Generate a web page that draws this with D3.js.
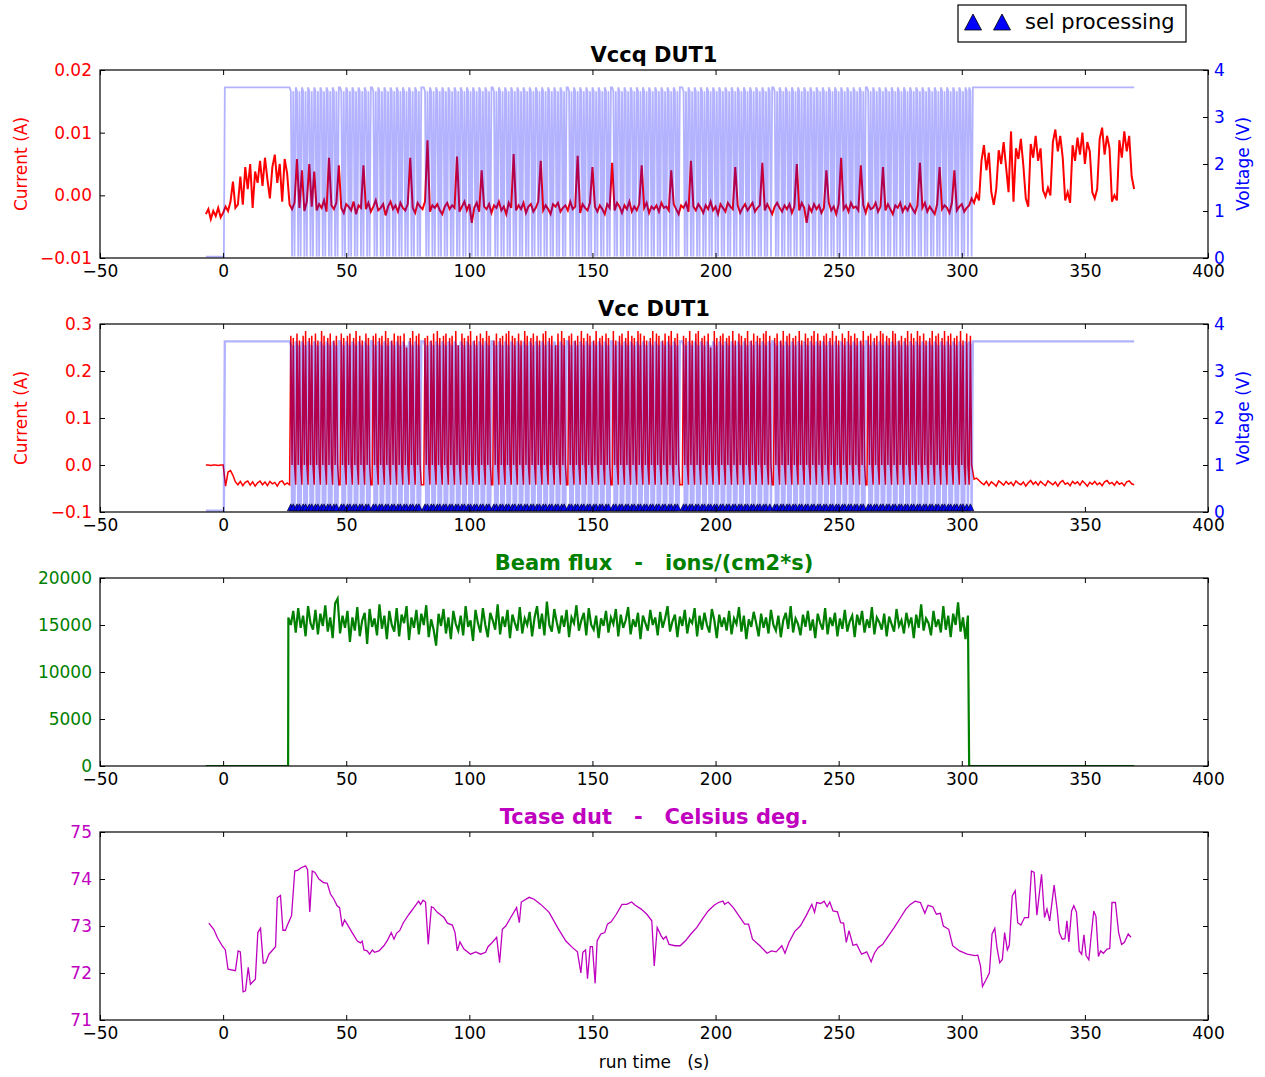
<!DOCTYPE html>
<html>
<head>
<meta charset="utf-8">
<script src="https://cdn.jsdelivr.net/npm/d3@7"></script>
<style>
  body { margin: 0; background: #fff; }
  svg { display: block; }
  text { font-family: "DejaVu Sans", sans-serif; }
</style>
</head>
<body>
<script>
// ---------- data ----------
const xTicks = [-50, 0, 50, 100, 150, 200, 250, 300, 350, 400];

// Vccq current, 1 s samples from t = -7 to 370, unit 1e-4 A
const vccqCurT0 = -7;
const vccqCur = [
  -30,-22,-38,-25,-33,-20,-35,-28,
  -18,-25,-10,22,-20,-15,
  30,-15,45,10,50,-20,38,20,
  55,15,60,25,-5,45,
  65,20,50,-10,58,35,
  -15,-22,-12,58,-20,40,-25,-10,50,-18,
  38,-24,-14,-20,-8,-26,60,-16,-22,-12,
  48,-20,-28,-14,-18,-24,-10,-30,-16,-20,
  48,-22,-12,-26,-18,-8,-24,-20,-14,-32,
  -18,-10,-22,-16,-26,-12,-20,-24,-14,60,
  -20,-28,-12,-18,-22,-10,88,-26,-16,-20,
  -14,-24,-30,-18,-12,-22,-16,-20,62,-26,
  -18,-10,-24,-14,-44,-20,-12,-26,40,-18,
  -22,-14,-28,-16,-20,-10,-24,-18,-30,-12,
  -20,66,-24,-16,-22,-12,-28,-18,-14,-26,
  -20,-10,55,-24,-16,-22,-30,-14,-18,-12,
  -26,-20,-16,-24,-10,-22,-18,63,-28,-14,
  -20,-24,-12,45,-18,-26,-16,-22,-30,-14,
  -20,52,-24,-12,-18,-28,-16,-22,-10,-26,
  -18,-24,-14,48,-20,-12,-28,-18,-22,-16,
  -26,-12,-20,-18,-24,40,-14,-22,-30,-16,
  -20,-12,-26,55,-18,-24,-14,-20,-28,-16,
  -22,-10,-24,-18,-30,-14,-20,-26,-12,-18,
  -22,45,-16,-28,-20,-14,-24,-18,-12,-26,
  -20,-16,52,-24,-14,-22,-30,-18,-12,-20,
  -26,-16,-22,-14,-28,-18,50,-24,-12,-20,
  -44,-18,-26,-14,-22,-16,-28,-20,40,-12,
  -24,-18,-30,-14,60,-22,-16,-26,-12,-20,
  -18,-24,48,-16,-28,-14,-22,-20,-12,-26,
  -18,45,-24,-14,-22,-30,-16,-20,-12,-26,
  -18,-24,-14,-22,-28,-16,52,-20,-12,-26,
  -18,-24,-30,-14,45,-22,-16,-20,-28,-12,
  40,-24,-18,-14,-26,-20,-16,
  -5,-12,2,-8, 55,80,40,68, 5,-15,10, 72,50,85,45, 5,102,-10,
  75,58,90,48, -5,-18, 82,60,95,55,75, 8,-2,12,0, 85,105,70,95,60,
  -8,5,-12, 80,55,92,65,100,50,85,70, 5,-5,10, 90,108,65,95,75,
  -10,0,-8, 88,60,102,70,95, 30,10
];

// SEL cycling, one character every 0.5 s from t = 27:
// n = normal, o = power cut, digit = SEL current level
const selT0 = 27, selDt = 0.5;
const selStates = [
  "n7o6on8o5on7o9on6o7on8o5o",
  "n9o7on6o8on5o7onn8o6on7o",
  "8on6o9on7o5on8o6onn7o8on6o",
  "7on9o6on5o8on7o7on8o2on6o",
  "9on7o8onnn6o7on5o8on9o6on7o",
  "8on6o7on9o3on8o6on7o9on5o",
  "7on8o6on9o7onn5o8on6o7on8o",
  "9on7o6on8o5on9o7on6o8on7o",
  "5on8o9on6o7on3o8on9o6onn7o",
  "8on5o7on9o6on8o7on5o9on6o",
  "7on8o6onn9o5on7o8on6o9on7o",
  "6on9o8on7o5on6o9on8o7on5o",
  "8on7o9on6o8onnn7o6on9o5on8o",
  "9on6o7on8o2on9o6on7o8on6o",
  "7on9o5on8o7on6o9on5o8on7o",
  "6on8o9on7onn6o8on5o9on7o",
  "8on6o7on9o5on8o6on7o9on8o",
  "5on7o8on6o9on7o5on8o6on9o",
  "7on8o6on5o9onn7o8on6o7on9o",
  "8on7o6on9o8on5o7on6o9on8o",
  "6on9o7on8o5on6o9on7o8on6o",
  "9on7o8on6o7on9o5on8o",
  "n7o"
].join("");

// supply voltage (V) outside the SEL phase
const voltBefore = [[-7, 0.03], [0.3, 0.03], [0.7, 3.63]];
const voltAfter = [[304.5, 3.63], [370, 3.63]];
const voltLevel = { n: 3.63, s: 3.55, o: 0.03 };

// Vcc current (unit 1e-3 A), 1 s samples
const vccCurPreT0 = -7;
const vccCurPre = [
  0,0,-1,0,0,-1,0,0,
  -45,-15,-12,-22,-36,-42,-35,-44,-37,-34,-43,-36,-45,-38,-34,
  -42,-36,-44,-35,-40,-37,-45,-36,-34,-42,-38
];
const vccCurPostT0 = 305;
const vccCurPost = [
  -30,-28,-33,-38,-42,-35,-44,-36,-40,-45,
  -34,-38,-43,-35,-41,-37,-44,-34,-39,-42,
  -36,-45,-38,-33,-41,-36,-43,-35,-40,-44,
  -34,-38,-42,-36,-45,-37,-33,-41,-38,-44,
  -35,-40,-36,-43,-34,-39,-45,-37,-41,-35,
  -42,-38,-44,-36,-33,-40,-37,-43,-35,-41,
  -38,-44,-36,-34,-40,-42
];
const vccNormal = -0.042, vccOff = 0.0, vccSelBase = 0.24, vccSelStep = 0.005;
const selMarkVolt = 0.1;

// beam flux, unit 100 ions/(cm2*s), 1 s samples from t = 26.5
const fluxT0 = 26.5;
const fluxBefore = [[-7, 0], [26.4, 0]];
const fluxAfter = [[303, 0], [370, 0]];
const flux = [
  158,150,165,142,168,147,160,138,170,152,
  145,166,140,162,149,171,143,158,136,173,
  178,141,160,147,165,132,158,144,169,138,
  155,163,130,167,148,157,139,172,146,160,
  135,165,150,143,168,138,161,152,170,134,
  158,147,166,140,162,150,171,137,156,145,
  128,162,149,167,141,158,135,165,151,144,
  160,139,170,148,155,133,166,152,142,168,
  150,137,163,155,145,172,140,159,148,166,
  136,161,152,144,169,141,157,150,164,138,
  158,170,146,162,139,175,150,143,167,153,
  141,160,148,166,137,158,152,171,144,155,
  163,139,168,150,145,160,136,157,149,165,
  142,158,151,167,138,161,147,155,169,140,
  156,148,163,135,160,152,144,166,150,158,
  139,164,147,157,170,143,154,161,137,159,
  149,166,141,156,152,168,138,160,145,163,
  150,142,167,155,136,161,148,158,144,165,
  140,157,151,169,143,160,135,156,148,164,
  152,138,162,147,158,141,166,150,144,160,
  137,155,163,146,170,142,157,151,139,161,
  148,165,144,156,136,162,152,145,168,140,
  158,149,163,138,157,146,166,143,154,160,
  137,161,150,165,142,156,147,169,140,158,
  153,145,162,138,159,151,143,167,149,155,
  141,163,150,158,136,161,147,172,144,157,
  152,139,165,148,156,142,170,145,160,137,
  162,150,174,143,158,135,160
];

// case temperature [t (s), deg C]
const tcase = [
  [-5.8,73.06],[-3.8,72.93],[-2.4,72.76],[-0.4,72.58],[0.9,72.49],[2,72.08],[5,72.05],[6.1,72.47],
  [7,72.45],[8.1,71.6],[9.1,71.62],[10.2,72.12],[11.1,71.76],[13.1,71.87],[14.1,72.86],[15.2,72.95],
  [16.3,72.21],[17.3,72.22],[18.6,72.4],[21.3,72.56],[22,73.6],[23.3,73.65],[24.3,72.91],[25.3,72.91],
  [26.3,73.04],[27.8,73.22],[29.1,74.17],[30.4,74.19],[31.7,74.24],[33.5,74.28],[34.3,74.2],[35.2,73.3],
  [36.2,74.17],[37.3,74.14],[38.9,74.0],[40.9,73.92],[42.3,73.91],[43.6,73.68],[45,73.57],[46.3,73.43],
  [47.3,73.39],[48.4,72.99],[49.3,73.13],[50.4,73.04],[52.4,72.86],[54.5,72.68],[55.8,72.64],[56.5,72.68],
  [57.2,72.49],[58.5,72.47],[59.5,72.4],[60.6,72.49],[61.5,72.44],[63.3,72.47],[65.3,72.58],[66.9,72.71],
  [68.3,72.86],[69.4,72.72],[70.5,72.85],[71.7,72.9],[73.2,73.07],[75.5,73.25],[77.5,73.39],[79.4,73.53],
  [80.2,73.46],[81.2,73.55],[82.2,73.51],[83.3,72.61],[84.6,73.41],[85.4,73.39],[87,73.29],[89.7,73.18],
  [91.1,73.06],[93.1,73.02],[94.2,72.86],[95.1,72.47],[96.2,72.66],[97.8,72.51],[100.5,72.4],[102.6,72.45],
  [104.6,72.4],[106.6,72.44],[107.6,72.56],[109.3,72.65],[111.1,72.76],[112.3,72.22],[113.4,72.93],[114.8,73.0],
  [116.8,73.18],[119.2,73.39],[120.3,73.07],[121.1,73.51],[124.3,73.61],[126.3,73.57],[129,73.46],[132.4,73.29],
  [135.8,72.97],[139.2,72.68],[141.9,72.54],[143.9,72.45],[145.3,72.0],[146.1,72.44],[147.2,72.49],[148,71.88],
  [149.1,72.56],[150,72.56],[151.1,71.78],[151.9,72.68],[153.4,72.83],[155,72.86],[156.1,73.04],[157.6,73.09],
  [159.7,73.25],[162,73.46],[163.9,73.46],[165.9,73.51],[167.4,73.44],[169.8,73.36],[172.1,73.25],[174.1,73.11],
  [175.1,72.15],[176.3,72.97],[177.9,72.79],[178.8,72.72],[179.9,72.78],[181.1,72.61],[183.5,72.58],[185.6,72.58],
  [187.7,72.68],[190,72.83],[192.4,72.97],[194.7,73.15],[197,73.32],[199.4,73.44],[201.2,73.5],[203,73.53],
  [203.7,73.46],[205.1,73.51],[207.2,73.39],[210,73.18],[211.8,73.04],[213.4,73.04],[215,72.72],[218,72.58],
  [220.9,72.42],[222.7,72.47],[224.6,72.45],[226.9,72.58],[228.2,72.42],[229.8,72.65],[232.1,72.88],[234.4,73.0],
  [236.8,73.22],[239.1,73.46],[240.2,73.29],[241.1,73.5],[242.7,73.48],[244.1,73.53],[245.3,73.41],[246.4,73.51],
  [247.7,73.32],[249.5,73.3],[250.8,73.07],[252,73.06],[253.1,72.65],[254.2,72.9],[255.8,72.59],[257.3,72.61],
  [259.3,72.4],[261.4,72.45],[263.2,72.24],[264.5,72.42],[266,72.54],[267.9,72.61],[270.2,72.79],[272.6,72.97],
  [274.9,73.16],[277.3,73.36],[279.1,73.46],[281.1,73.53],[283.2,73.5],[285,73.27],[286.3,73.44],[288.2,73.41],
  [289.7,73.25],[291.3,73.27],[292.5,73.0],[294.7,72.93],[296.3,72.58],[299.1,72.47],[302.2,72.4],[305.3,72.37],
  [306.5,72.38],[307.6,72.15],[308.4,71.71],[309.7,71.84],[311.2,72.0],[312.3,72.83],[313.4,72.95],[314.3,72.54],
  [315.4,72.22],[316.5,72.29],[317.4,72.86],[318.5,72.49],[319.3,72.59],[320.5,73.64],[321.7,73.75],[322.7,73.07],
  [324,73.02],[325.5,73.18],[327.1,73.18],[328.3,74.17],[329.4,74.14],[330.5,73.23],[332.4,74.1],[333.6,73.18],
  [334.6,73.36],[335.7,73.11],[337.5,73.87],[338.8,73.32],[339.6,72.86],[340.8,72.72],[341.9,72.73],[342.7,73.11],
  [343.5,72.66],[344.6,73.32],[345.5,73.43],[346.6,73.29],[347.7,72.47],[348.7,72.4],[349.6,72.81],[350.5,72.37],
  [351.6,72.28],[352.5,72.76],[353.6,73.32],[354.5,73.2],[355.5,72.35],[356.4,72.47],[357.5,72.42],[359,72.51],
  [360.1,72.52],[361,73.5],[362.4,73.5],[363.7,72.86],[364.9,72.61],[366,72.65],[367.6,72.83],[368.7,72.76]
];

// ---------- layout ----------
const W = 1265, H = 1077;
const left = 100, right = 1208, ph = 188;
const tops = [70, 324, 578, 832];
const RED = "#ff0000", BLUE = "#0000ff", GREEN = "#008000", MAG = "#bf00bf";

const svg = d3.select("body").append("svg").attr("width", W).attr("height", H);
const x = d3.scaleLinear().domain([-50, 400]).range([left, right]);
const fmtX = d => d < 0 ? "\u2212" + Math.abs(d) : String(d);

// ---------- build series ----------
const kind = c => (c === "n" || c === "o") ? c : "s";
const states = selStates.split("").map((c, i) => ({ t: selT0 + i * selDt, c, k: kind(c) }));

const vccqCurPts = vccqCur.map((v, i) => [vccqCurT0 + i, v * 1e-4]);
const voltPts = voltBefore
  .concat(states.map(s => [s.t, voltLevel[s.k]]))
  .concat(voltAfter);
const vccCurPts = vccCurPre.map((v, i) => [vccCurPreT0 + i, v * 1e-3])
  .concat(states.map(s => [s.t,
    s.k === "n" ? vccNormal : s.k === "o" ? vccOff : vccSelBase + (+s.c) * vccSelStep]))
  .concat(vccCurPost.map((v, i) => [vccCurPostT0 + i, v * 1e-3]));
const selMarks = states.filter(s => s.k === "s").map(s => s.t);
const fluxPts = fluxBefore
  .concat(flux.map((v, i) => [fluxT0 + i, v * 100]))
  .concat(fluxAfter);

// ---------- helpers ----------
function styleAxis(g, color) {
  g.select(".domain").remove();
  g.selectAll(".tick line").attr("stroke", "#000").attr("stroke-width", 1);
  g.selectAll(".tick text").attr("fill", color).attr("font-size", 17)
    .attr("font-family", "DejaVu Sans, sans-serif");
}

function panel(i) {
  const top = tops[i];
  const g = svg.append("g");
  g.append("clipPath").attr("id", "clip" + i)
    .append("rect").attr("x", left).attr("y", top).attr("width", right - left).attr("height", ph);
  const plot = g.append("g").attr("clip-path", `url(#clip${i})`);
  const axes = g.append("g");
  return { g, plot, axes, top };
}

function finish(p) {
  const { axes, top } = p;
  const b = axes.append("g").attr("transform", `translate(0,${top + ph})`)
    .call(d3.axisBottom(x).tickValues(xTicks).tickFormat(fmtX).tickSize(-5).tickSizeOuter(0).tickPadding(7));
  styleAxis(b, "#000");
  const t = axes.append("g").attr("transform", `translate(0,${top})`)
    .call(d3.axisTop(x).tickValues(xTicks).tickFormat("").tickSize(-5).tickSizeOuter(0));
  styleAxis(t, "#000");
  axes.append("rect").attr("x", left).attr("y", top).attr("width", right - left).attr("height", ph)
    .attr("fill", "none").attr("stroke", "#000").attr("stroke-width", 1.2);
}

function yAxisLeft(p, y, ticks, fmt, color, mirror) {
  const a = p.axes.append("g").attr("transform", `translate(${left},0)`)
    .call(d3.axisLeft(y).tickValues(ticks).tickFormat(fmt).tickSize(-5).tickSizeOuter(0).tickPadding(8));
  styleAxis(a, color);
  if (mirror) {
    const r = p.axes.append("g").attr("transform", `translate(${right},0)`)
      .call(d3.axisRight(y).tickValues(ticks).tickFormat("").tickSize(-5).tickSizeOuter(0));
    styleAxis(r, color);
  }
}

function yAxisRight(p, y, ticks, color) {
  const a = p.axes.append("g").attr("transform", `translate(${right},0)`)
    .call(d3.axisRight(y).tickValues(ticks).tickFormat(d3.format("d")).tickSize(-5).tickSizeOuter(0).tickPadding(6));
  styleAxis(a, color);
}

function title(p, txt, color) {
  p.axes.append("text").attr("x", (left + right) / 2).attr("y", p.top - 8)
    .attr("text-anchor", "middle").attr("font-size", 21).attr("font-weight", "bold")
    .attr("fill", color).style("white-space", "pre").text(txt);
}

function yLabel(p, txt, color, side) {
  const cy = p.top + ph / 2;
  const bx = side === "left" ? 27 : 1249;
  p.axes.append("text").attr("transform", `translate(${bx},${cy}) rotate(-90)`)
    .attr("text-anchor", "middle").attr("font-size", 17).attr("fill", color).text(txt);
}

function drawLine(p, pts, y, color, width, opacity) {
  p.plot.append("path").datum(pts)
    .attr("d", d3.line().x(d => x(d[0])).y(d => y(d[1])))
    .attr("fill", "none").attr("stroke", color).attr("stroke-width", width)
    .attr("stroke-opacity", opacity).attr("stroke-linejoin", "miter");
}

const tri = (cx, cy, w, h) => `M${cx},${cy - h / 2}L${cx + w / 2},${cy + h / 2}L${cx - w / 2},${cy + h / 2}Z`;

// ---------- panel 1: Vccq ----------
{
  const p = panel(0);
  const yL = d3.scaleLinear().domain([-0.01, 0.02]).range([p.top + ph, p.top]);
  const yR = d3.scaleLinear().domain([0, 4]).range([p.top + ph, p.top]);
  drawLine(p, vccqCurPts, yL, RED, 2, 1);
  drawLine(p, voltPts, yR, BLUE, 1.8, 0.3);
  finish(p);
  yAxisLeft(p, yL, [-0.01, 0, 0.01, 0.02], d3.format(".2f"), RED, false);
  yAxisRight(p, yR, [0, 1, 2, 3, 4], BLUE);
  title(p, "Vccq DUT1", "#000");
  yLabel(p, "Current (A)", RED, "left");
  yLabel(p, "Voltage (V)", BLUE, "right");
}

// ---------- panel 2: Vcc ----------
{
  const p = panel(1);
  const yL = d3.scaleLinear().domain([-0.1, 0.3]).range([p.top + ph, p.top]);
  const yR = d3.scaleLinear().domain([0, 4]).range([p.top + ph, p.top]);
  drawLine(p, vccCurPts, yL, RED, 1.5, 1);
  drawLine(p, voltPts, yR, BLUE, 2.4, 0.3);
  p.plot.append("g").selectAll("path").data(selMarks).join("path")
    .attr("d", t => tri(x(t), yR(selMarkVolt), 7, 7))
    .attr("fill", BLUE).attr("stroke", "#000").attr("stroke-width", 0.6);
  finish(p);
  yAxisLeft(p, yL, [-0.1, 0, 0.1, 0.2, 0.3], d3.format(".1f"), RED, false);
  yAxisRight(p, yR, [0, 1, 2, 3, 4], BLUE);
  title(p, "Vcc DUT1", "#000");
  yLabel(p, "Current (A)", RED, "left");
  yLabel(p, "Voltage (V)", BLUE, "right");
}

// ---------- panel 3: beam flux ----------
{
  const p = panel(2);
  const y = d3.scaleLinear().domain([0, 20000]).range([p.top + ph, p.top]);
  drawLine(p, fluxPts, y, GREEN, 2.2, 1);
  finish(p);
  yAxisLeft(p, y, [0, 5000, 10000, 15000, 20000], d3.format("d"), GREEN, true);
  title(p, "Beam flux   -   ions/(cm2*s)", GREEN);
}

// ---------- panel 4: Tcase ----------
{
  const p = panel(3);
  const y = d3.scaleLinear().domain([71, 75]).range([p.top + ph, p.top]);
  drawLine(p, tcase, y, MAG, 1.3, 1);
  finish(p);
  yAxisLeft(p, y, [71, 72, 73, 74, 75], d3.format("d"), MAG, true);
  title(p, "Tcase dut   -   Celsius deg.", MAG);
  p.axes.append("text").attr("x", (left + right) / 2).attr("y", 1068)
    .attr("text-anchor", "middle").attr("font-size", 17).style("white-space", "pre")
    .text("run time   (s)");
}

// ---------- legend ----------
{
  const lg = svg.append("g");
  lg.append("rect").attr("x", 958).attr("y", 5).attr("width", 228).attr("height", 37)
    .attr("fill", "#fff").attr("stroke", "#000").attr("stroke-width", 1.2);
  lg.selectAll("path").data([973, 1002]).join("path")
    .attr("d", cx => tri(cx, 22, 17, 16))
    .attr("fill", BLUE).attr("stroke", "#000").attr("stroke-width", 0.8);
  lg.append("text").attr("x", 1025).attr("y", 29).attr("font-size", 21).text("sel processing");
}
</script>
</body>
</html>
